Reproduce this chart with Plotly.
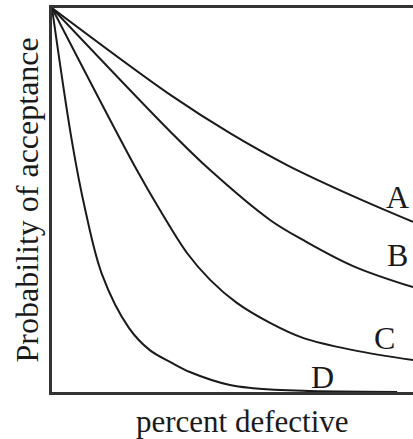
import plotly.graph_objects as go

# Operating characteristic curves (x: fraction of axis, y: probability of acceptance)
a_x = [0, 0.332, 0.493, 0.651, 0.834, 1.0]
a_y = [1, 0.771, 0.674, 0.591, 0.510, 0.443]

b_x = [0, 0.332, 0.438, 0.604, 0.695, 0.834, 1.0]
b_y = [1, 0.674, 0.578, 0.448, 0.396, 0.328, 0.273]

c_x = [0, 0.235, 0.299, 0.374, 0.438, 0.512, 0.604, 0.695, 0.834, 1.0]
c_y = [1, 0.578, 0.474, 0.362, 0.292, 0.232, 0.180, 0.141, 0.109, 0.083]

d_x = [0, 0.055, 0.091, 0.139, 0.213, 0.271, 0.332, 0.382, 0.493, 0.557, 0.695, 0.956]
d_y = [1, 0.654, 0.479, 0.305, 0.167, 0.109, 0.076, 0.052, 0.018, 0.010, 0.003, 0.0]

curve_names = ["A", "B", "C", "D"]
label_x = [0.956, 0.956, 0.922, 0.748]
label_y = [0.508, 0.357, 0.141, 0.040]

x_title = "percent defective"
y_title = "Probability of acceptance"

FONT = "Liberation Serif, Times New Roman, serif"

fig = go.Figure()
for xs, ys, name in zip([a_x, b_x, c_x, d_x], [a_y, b_y, c_y, d_y], curve_names):
    fig.add_trace(go.Scatter(x=xs, y=ys, mode="lines", name=name,
                             line=dict(color="#1a1a1a", width=2, shape="spline", smoothing=1.0),
                             showlegend=False, hoverinfo="skip"))

for name, lx, ly in zip(curve_names, label_x, label_y):
    fig.add_annotation(x=lx, y=ly, xref="x", yref="y", text=name, showarrow=False,
                       font=dict(family=FONT, size=32, color="#1a1a1a"),
                       xanchor="center", yanchor="middle")

fig.add_annotation(x=0.528, y=-0.078, xref="paper", yref="paper", text=x_title,
                   showarrow=False, font=dict(family=FONT, size=31, color="#1a1a1a"),
                   xanchor="center", yanchor="middle")
fig.add_annotation(x=-0.068, y=0.5, xref="paper", yref="paper", text=y_title,
                   showarrow=False, textangle=-90,
                   font=dict(family=FONT, size=32, color="#1a1a1a"),
                   xanchor="center", yanchor="middle")

fig.update_xaxes(range=[0, 1], showgrid=False, zeroline=False, showticklabels=False,
                 ticks="", showline=True, linecolor="#333333", linewidth=2.5, mirror=True)
fig.update_yaxes(range=[0, 1], showgrid=False, zeroline=False, showticklabels=False,
                 ticks="", showline=True, linecolor="#333333", linewidth=2.5)

fig.update_layout(width=413, height=439, margin=dict(l=52, r=0, t=8, b=47),
                  plot_bgcolor="white", paper_bgcolor="white")

fig.write_html("out.html", config={"displayModeBar": False},
               post_script="document.body.style.margin='0';document.body.style.overflow='hidden';")
